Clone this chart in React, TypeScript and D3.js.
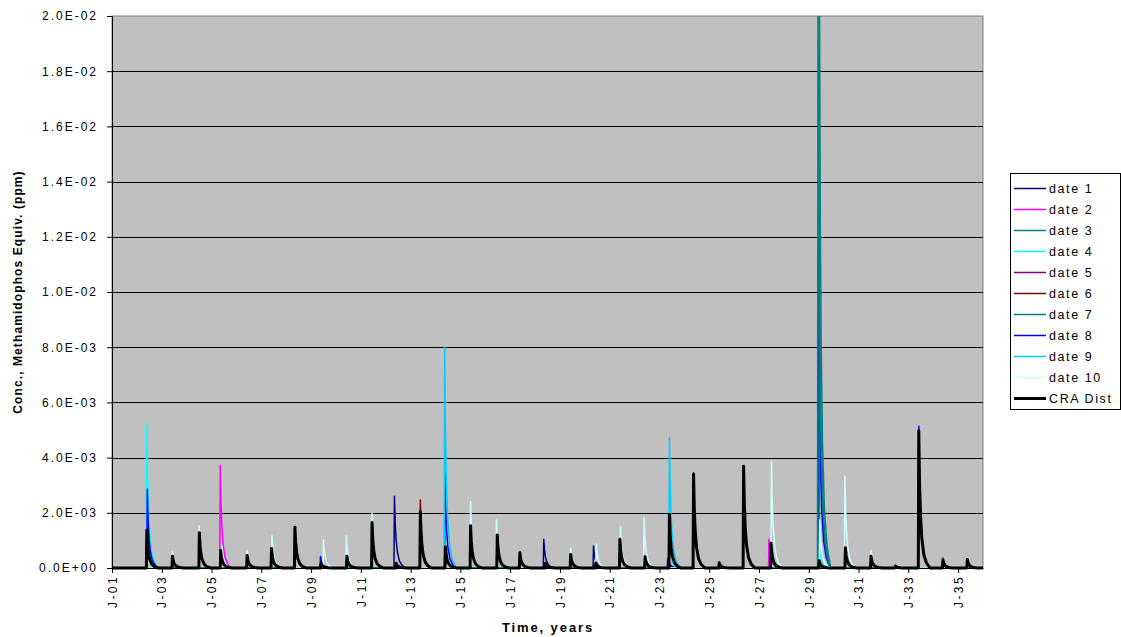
import React, { useEffect, useRef } from "react";
import * as d3 from "d3";

const W = 1121;
const H = 637;
const M = { left: 112, right: 983, top: 16, bottom: 568 };

// peaks: [years after J-01, concentration in 1e-3 ppm]
const DATE_1 = [[11.35, 2.6], [17.35, 1.04], [19.35, 0.8], [22.33, 0.35]];
const DATE_2 = [[4.35, 3.71], [26.4, 1.04]];
const DATE_3 = [[28.37, 20.6]];
const DATE_4 = [[1.4, 5.23], [22.38, 1.2], [28.43, 0.65]];
const DATE_5 = [[28.41, 13.5]];
const DATE_6 = [[12.39, 2.46], [23.37, 3.45], [33.39, 0.36]];
const DATE_7 = [[28.43, 20.6]];
const DATE_8 = [[1.42, 2.85], [8.38, 0.42], [13.38, 3.39], [22.36, 0.3], [28.4, 9.5], [32.42, 5.14]];
const DATE_9 = [[13.37, 8.0], [22.4, 4.73]];
const DATE_10 = [
  [2.43, 0.6], [3.5, 1.53], [4.42, 0.8], [5.43, 0.63], [6.43, 1.17], [8.5, 1.01],
  [9.42, 1.16], [10.45, 1.98], [14.41, 2.4], [15.45, 1.74], [18.43, 0.71], [19.46, 0.87],
  [20.43, 1.49], [21.38, 1.82], [26.5, 3.85], [28.44, 1.74], [29.45, 3.33], [30.5, 0.63],
  [33.45, 0.2], [34.4, 0.2],
];
const CRA_DIST = [
  [1.4, 1.37], [2.43, 0.43], [3.51, 1.28], [4.37, 0.63], [5.43, 0.45], [6.41, 0.71],
  [7.35, 1.48], [8.4, 0.17], [9.44, 0.43], [10.45, 1.65], [11.42, 0.17], [12.39, 2.04],
  [13.4, 0.77], [14.41, 1.53], [15.48, 1.2], [16.39, 0.55], [17.42, 0.17], [18.43, 0.49],
  [19.44, 0.17], [20.41, 1.04], [21.42, 0.41], [22.4, 1.94], [23.37, 3.39], [24.4, 0.19],
  [25.38, 3.69], [26.48, 0.9], [28.42, 0.26], [29.47, 0.73], [30.5, 0.43], [31.48, 0.07],
  [32.42, 4.96], [33.39, 0.29], [34.37, 0.31],
];

// shape of one spike (offset in years, fraction of peak)
const SPIKE_OFFSETS = [-0.02, 0, 0.03, 0.07, 0.12, 0.2, 0.3, 0.45];
const SPIKE_SHAPE = [0, 1, 0.62, 0.38, 0.22, 0.1, 0.04, 0];

const SERIES_NAMES = ["date 1", "date 2", "date 3", "date 4", "date 5", "date 6", "date 7", "date 8", "date 9", "date 10", "CRA Dist"];
const SERIES_PEAKS = [DATE_1, DATE_2, DATE_3, DATE_4, DATE_5, DATE_6, DATE_7, DATE_8, DATE_9, DATE_10, CRA_DIST];
const SERIES_COLORS = ["#000080", "#FF00FF", "#008080", "#00FFFF", "#800080", "#800000", "#008080", "#0000FF", "#00CCFF", "#CCFFFF", "#000000"];
const SERIES_WIDTHS = [1.5, 1.5, 1.5, 1.5, 1.5, 1.5, 1.5, 1.5, 1.5, 1.5, 3];
// drawing order (first drawn is at the back)
const DRAW_ORDER = [0, 1, 3, 4, 5, 7, 8, 2, 6, 9, 10];

const START_YEAR = 2001;
const END_YEAR = 2036;
const X_TICKS = d3.range(2001, 2036, 2);
const Y_TICKS = d3.range(0, 11).map((i) => i * 0.002);

function fmtE(v: number) {
  if (v === 0) return "0.0E+00";
  const e = Math.floor(Math.log10(v) + 1e-9);
  const m = v / Math.pow(10, e);
  const s = String(Math.abs(e)).padStart(2, "0");
  return `${m.toFixed(1)}E${e < 0 ? "-" : "+"}${s}`;
}

function buildPoints(peaks: number[][]) {
  const pts: [number, number][] = [[START_YEAR, 0]];
  peaks.forEach(([t, v]) => {
    SPIKE_OFFSETS.forEach((o, k) => {
      pts.push([START_YEAR + t + o, v * 1e-3 * SPIKE_SHAPE[k]]);
    });
  });
  pts.push([END_YEAR, 0]);
  pts.sort((a, b) => a[0] - b[0]);
  return pts;
}

export default function App() {
  const ref = useRef<SVGSVGElement>(null);
  useEffect(() => {
    const svg = d3.select(ref.current);
    svg.selectAll("*").remove();
    const font = "'Liberation Sans', Arial, sans-serif";

    const x = d3.scaleLinear().domain([START_YEAR, END_YEAR]).range([M.left, M.right]);
    const y = d3.scaleLinear().domain([0, 0.02]).range([M.bottom, M.top]);

    svg.append("rect").attr("width", W).attr("height", H).attr("fill", "#ffffff");
    svg.append("rect")
      .attr("x", M.left).attr("y", M.top)
      .attr("width", M.right - M.left).attr("height", M.bottom - M.top)
      .attr("fill", "#C0C0C0").attr("stroke", "#808080").attr("stroke-width", 1);

    // gridlines
    svg.append("g").selectAll("line").data(Y_TICKS.filter((v) => v > 0 && v < 0.02)).join("line")
      .attr("x1", M.left).attr("x2", M.right)
      .attr("y1", (d) => Math.round(y(d)) + 0.5).attr("y2", (d) => Math.round(y(d)) + 0.5)
      .attr("stroke", "#000").attr("stroke-width", 1);

    const defs = svg.append("defs");
    defs.append("clipPath").attr("id", "plotclip").append("rect")
      .attr("x", M.left).attr("y", M.top)
      .attr("width", M.right - M.left).attr("height", M.bottom - M.top + 3);

    const line = d3.line<[number, number]>().x((d) => x(d[0])).y((d) => y(d[1]));
    const lg = svg.append("g").attr("clip-path", "url(#plotclip)");
    DRAW_ORDER.forEach((i) => {
      lg.append("path")
        .attr("d", line(buildPoints(SERIES_PEAKS[i])))
        .attr("fill", "none")
        .attr("stroke", SERIES_COLORS[i])
        .attr("stroke-width", SERIES_WIDTHS[i])
        .attr("stroke-linejoin", "round");
    });

    // axes
    const ya = svg.append("g").attr("transform", `translate(${M.left},0)`)
      .call(d3.axisLeft(y).tickValues(Y_TICKS).tickFormat((d) => fmtE(+d)).tickSize(5).tickPadding(9));
    ya.select(".domain").attr("stroke", "#000");
    ya.selectAll("text").attr("font-family", font).attr("font-size", 12).attr("fill", "#000")
      .attr("letter-spacing", "2px");

    const xa = svg.append("g").attr("transform", `translate(0,${M.bottom})`)
      .call(d3.axisBottom(x).tickValues(X_TICKS).tickFormat((d) => `J-${String(+d % 100).padStart(2, "0")}`).tickSize(5).tickSizeOuter(0));
    xa.select(".domain").attr("stroke", "#000");
    xa.selectAll("text")
      .attr("font-family", font).attr("font-size", 12).attr("fill", "#000")
      .attr("letter-spacing", "2.4px")
      .attr("text-anchor", "end")
      .attr("transform", "rotate(-90)")
      .attr("x", -7).attr("y", 0).attr("dy", "0.35em");

    // titles
    svg.append("text")
      .attr("transform", `translate(22,${(M.top + M.bottom) / 2}) rotate(-90)`)
      .attr("text-anchor", "middle")
      .attr("font-family", font).attr("font-size", 12).attr("font-weight", "bold")
      .attr("letter-spacing", "1.1px")
      .text("Conc., Methamidophos Equiv. (ppm)");
    svg.append("text")
      .attr("x", 548).attr("y", 632)
      .attr("text-anchor", "middle")
      .attr("font-family", font).attr("font-size", 13).attr("font-weight", "bold")
      .attr("letter-spacing", "1.9px")
      .text("Time, years");

    // legend
    const lx = 1010, ly = 173, lw = 110, lh = 236;
    const leg = svg.append("g");
    leg.append("rect").attr("x", lx + 0.5).attr("y", ly + 0.5).attr("width", lw).attr("height", lh)
      .attr("fill", "#fff").attr("stroke", "#000").attr("stroke-width", 1);
    SERIES_NAMES.forEach((name, i) => {
      const cy = 188.5 + i * 21;
      leg.append("line").attr("x1", lx + 4).attr("x2", lx + 36).attr("y1", cy).attr("y2", cy)
        .attr("stroke", SERIES_COLORS[i]).attr("stroke-width", SERIES_WIDTHS[i] === 3 ? 3 : 1.5);
      leg.append("text").attr("x", lx + 39).attr("y", cy).attr("dy", "0.35em")
        .attr("font-family", font).attr("font-size", 12.5).attr("letter-spacing", "1.6px")
        .text(name);
    });
  }, []);

  return (
    <svg ref={ref} width={W} height={H} style={{ position: "absolute", left: 0, top: 0 }} />
  );
}
